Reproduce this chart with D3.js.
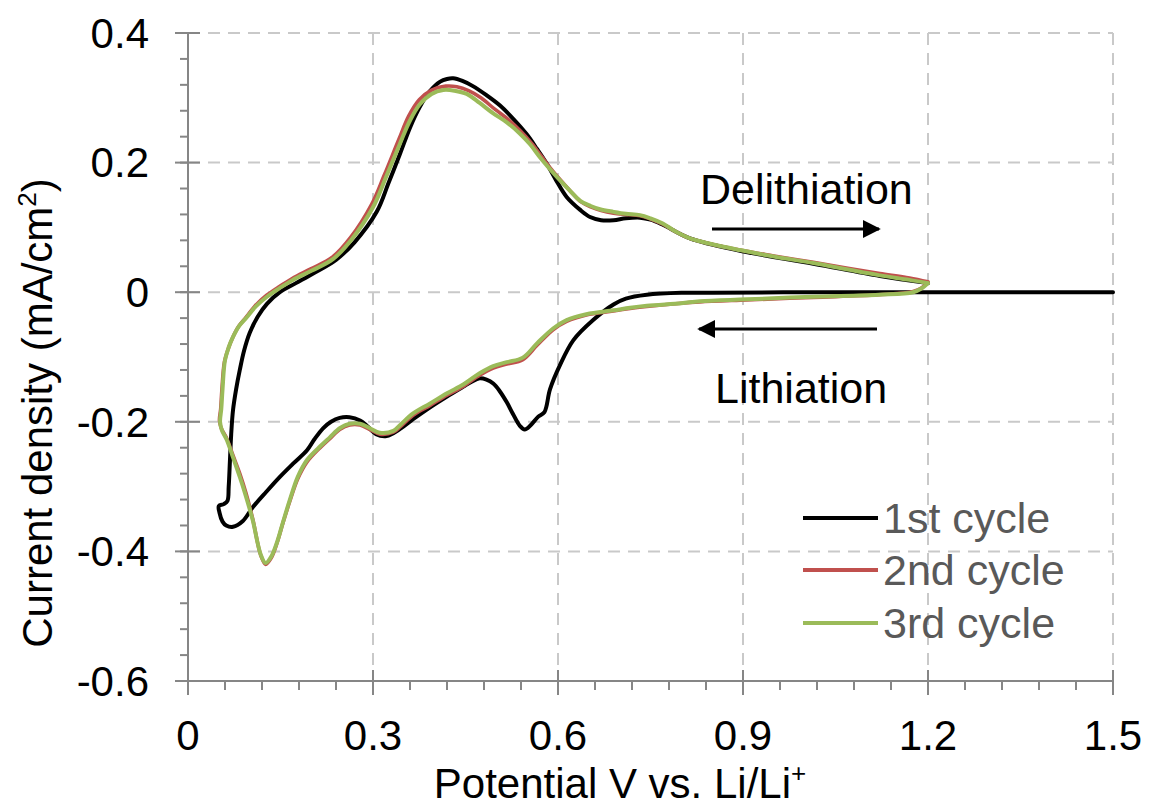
<!DOCTYPE html>
<html>
<head>
<meta charset="utf-8">
<script src="https://cdn.jsdelivr.net/npm/d3@7"></script>
<style>
  html, body { margin: 0; padding: 0; background: #fff; }
  svg { display: block; }
  text { font-family: "Liberation Sans", Arial, sans-serif; }
</style>
</head>
<body>
<svg id="chart" width="1151" height="810"></svg>
<script>
// ---------------- data ----------------
const xTicks = [0, 0.3, 0.6, 0.9, 1.2, 1.5];
const xTickLabels = ["0", "0.3", "0.6", "0.9", "1.2", "1.5"];
const yTicks = [0.4, 0.2, 0, -0.2, -0.4, -0.6];
const yTickLabels = ["0.4", "0.2", "0", "-0.2", "-0.4", "-0.6"];
const seriesNames = ["1st cycle", "2nd cycle", "3rd cycle"];
const seriesColors = ["#000000", "#c0504d", "#9bbb59"];

const cycle1Potential = [1.5,1.2,1.0,0.85,0.8,0.744,0.71,0.69,0.657,0.625,0.603,0.587,0.578,0.568,0.556,0.546,0.538,0.527,0.517,0.505,0.495,0.484,0.473,0.46,0.446,0.42,0.392,0.365,0.344,0.322,0.305,0.29,0.279,0.262,0.246,0.232,0.219,0.205,0.193,0.17,0.149,0.127,0.105,0.089,0.073,0.062,0.056,0.051,0.05,0.058,0.064,0.066,0.068,0.07,0.073,0.078,0.084,0.091,0.1,0.113,0.128,0.149,0.175,0.203,0.24,0.27,0.306,0.325,0.344,0.36,0.376,0.392,0.409,0.42,0.43,0.445,0.462,0.484,0.506,0.527,0.549,0.566,0.582,0.598,0.614,0.636,0.652,0.67,0.69,0.71,0.733,0.75,0.77,0.814,0.895,1.014,1.122,1.2];
const cycle1Current = [0,0,0,-0.001,-0.001,-0.004,-0.01,-0.019,-0.043,-0.074,-0.113,-0.15,-0.185,-0.192,-0.205,-0.212,-0.206,-0.188,-0.17,-0.152,-0.141,-0.135,-0.133,-0.138,-0.146,-0.161,-0.178,-0.196,-0.211,-0.222,-0.219,-0.206,-0.198,-0.193,-0.194,-0.2,-0.21,-0.227,-0.244,-0.265,-0.285,-0.308,-0.332,-0.353,-0.362,-0.36,-0.354,-0.34,-0.33,-0.327,-0.322,-0.3,-0.26,-0.22,-0.182,-0.15,-0.12,-0.09,-0.063,-0.038,-0.018,0,0.014,0.029,0.05,0.077,0.124,0.168,0.214,0.254,0.286,0.31,0.325,0.329,0.33,0.326,0.318,0.304,0.288,0.268,0.244,0.221,0.198,0.171,0.147,0.127,0.116,0.111,0.111,0.114,0.115,0.112,0.104,0.083,0.064,0.044,0.025,0.014];

const cycle2Potential = [1.2,1.19,1.176,1.12,1.014,0.906,0.83,0.8,0.744,0.717,0.69,0.646,0.614,0.592,0.566,0.543,0.517,0.495,0.473,0.447,0.42,0.392,0.365,0.345,0.333,0.311,0.295,0.279,0.262,0.246,0.23,0.212,0.193,0.178,0.165,0.154,0.144,0.135,0.126,0.118,0.105,0.094,0.084,0.073,0.063,0.054,0.051,0.053,0.055,0.059,0.065,0.072,0.082,0.094,0.109,0.127,0.147,0.169,0.199,0.234,0.264,0.298,0.318,0.342,0.358,0.375,0.395,0.418,0.436,0.455,0.475,0.498,0.52,0.54,0.557,0.573,0.589,0.605,0.622,0.638,0.655,0.67,0.69,0.71,0.733,0.75,0.77,0.79,0.814,0.85,0.895,0.95,1.014,1.07,1.122,1.17,1.2];
const cycle2Current = [0.016,0.007,0.001,-0.004,-0.008,-0.012,-0.015,-0.017,-0.022,-0.025,-0.029,-0.035,-0.045,-0.058,-0.082,-0.104,-0.111,-0.117,-0.128,-0.145,-0.159,-0.175,-0.19,-0.207,-0.216,-0.219,-0.212,-0.205,-0.205,-0.212,-0.226,-0.242,-0.262,-0.288,-0.323,-0.356,-0.388,-0.41,-0.42,-0.406,-0.35,-0.31,-0.28,-0.252,-0.226,-0.21,-0.198,-0.18,-0.15,-0.108,-0.088,-0.071,-0.053,-0.039,-0.021,-0.005,0.008,0.021,0.036,0.054,0.085,0.136,0.18,0.236,0.272,0.297,0.312,0.318,0.317,0.311,0.3,0.282,0.266,0.248,0.23,0.21,0.19,0.172,0.154,0.139,0.131,0.126,0.122,0.12,0.118,0.113,0.105,0.094,0.083,0.074,0.065,0.056,0.046,0.037,0.029,0.022,0.016];

const cycle3Potential = [1.2,1.19,1.176,1.12,1.014,0.906,0.83,0.8,0.744,0.717,0.69,0.646,0.614,0.592,0.566,0.543,0.517,0.495,0.473,0.447,0.42,0.392,0.365,0.345,0.333,0.311,0.295,0.279,0.262,0.246,0.23,0.212,0.193,0.178,0.165,0.154,0.144,0.135,0.126,0.118,0.105,0.094,0.084,0.073,0.063,0.055,0.052,0.054,0.056,0.06,0.066,0.073,0.083,0.095,0.11,0.128,0.148,0.17,0.2,0.235,0.265,0.3,0.32,0.344,0.36,0.376,0.395,0.414,0.432,0.452,0.473,0.495,0.517,0.538,0.555,0.571,0.587,0.603,0.62,0.636,0.653,0.668,0.69,0.71,0.733,0.75,0.77,0.79,0.814,0.85,0.895,0.95,1.014,1.07,1.122,1.17,1.2];
const cycle3Current = [0.014,0.006,0,-0.004,-0.007,-0.011,-0.014,-0.017,-0.021,-0.024,-0.028,-0.034,-0.043,-0.056,-0.079,-0.101,-0.108,-0.114,-0.125,-0.142,-0.156,-0.172,-0.187,-0.204,-0.214,-0.217,-0.21,-0.203,-0.203,-0.21,-0.224,-0.24,-0.259,-0.285,-0.321,-0.355,-0.387,-0.408,-0.418,-0.405,-0.352,-0.315,-0.285,-0.255,-0.228,-0.213,-0.2,-0.18,-0.15,-0.105,-0.085,-0.069,-0.052,-0.039,-0.022,-0.007,0.006,0.019,0.033,0.051,0.081,0.131,0.175,0.23,0.265,0.29,0.306,0.312,0.311,0.306,0.292,0.276,0.262,0.245,0.228,0.208,0.19,0.173,0.156,0.141,0.133,0.128,0.124,0.121,0.119,0.114,0.106,0.094,0.083,0.074,0.065,0.055,0.045,0.035,0.026,0.019,0.014];

// ---------------- layout ----------------
const svg = d3.select("#chart");
const x = d3.scaleLinear().domain([0, 1.5]).range([188, 1113]);
const y = d3.scaleLinear().domain([-0.6, 0.4]).range([681, 33]);
const FONT = 42;

// grid lines
const grid = svg.append("g").attr("stroke", "#c9c9c9").attr("stroke-width", 2).attr("stroke-dasharray", "12,8");
grid.selectAll("line.v").data(xTicks.filter(d => d > 0)).enter().append("line")
  .attr("x1", d => x(d)).attr("x2", d => x(d)).attr("y1", y(0.4)).attr("y2", y(-0.6));
grid.selectAll("line.h").data(yTicks.filter(d => d > -0.6)).enter().append("line")
  .attr("x1", x(0)).attr("x2", x(1.5)).attr("y1", d => y(d)).attr("y2", d => y(d));

// axes
const axisColor = "#868686";
const yMinor = d3.range(-0.6, 0.4001, 0.04);
const xMinor = d3.range(0, 1.5001, 0.06);
const ax = svg.append("g").attr("stroke", axisColor).attr("stroke-width", 2);
ax.append("line").attr("x1", x(0)).attr("x2", x(0)).attr("y1", y(0.4)).attr("y2", y(-0.6));
ax.append("line").attr("x1", x(0)).attr("x2", x(1.5)).attr("y1", y(-0.6)).attr("y2", y(-0.6));
ax.selectAll("line.ymin").data(yMinor).enter().append("line")
  .attr("x1", x(0) - 8).attr("x2", x(0)).attr("y1", d => y(d)).attr("y2", d => y(d));
ax.selectAll("line.ymaj").data(yTicks).enter().append("line")
  .attr("x1", x(0) - 13).attr("x2", x(0) + 12).attr("y1", d => y(d)).attr("y2", d => y(d));
ax.selectAll("line.xmin").data(xMinor).enter().append("line")
  .attr("x1", d => x(d)).attr("x2", d => x(d)).attr("y1", y(-0.6)).attr("y2", y(-0.6) + 9);
ax.selectAll("line.xmaj").data(xTicks).enter().append("line")
  .attr("x1", d => x(d)).attr("x2", d => x(d)).attr("y1", y(-0.6) - 11).attr("y2", y(-0.6) + 14);

// tick labels
svg.append("g").selectAll("text").data(yTicks).enter().append("text")
  .attr("x", 149).attr("y", d => y(d)).attr("dy", "0.35em")
  .attr("text-anchor", "end").attr("font-size", FONT).attr("fill", "#000")
  .text((d, i) => yTickLabels[i]);
svg.append("g").selectAll("text").data(xTicks).enter().append("text")
  .attr("x", d => x(d)).attr("y", 750)
  .attr("text-anchor", "middle").attr("font-size", FONT).attr("fill", "#000")
  .text((d, i) => xTickLabels[i]);

// axis titles
const xt = svg.append("text").attr("x", 620).attr("y", 798).attr("text-anchor", "middle")
  .attr("font-size", FONT).attr("fill", "#000");
xt.append("tspan").text("Potential V vs. Li/Li");
xt.append("tspan").attr("font-size", 26).attr("dy", -16).text("+");

const yt = svg.append("text").attr("transform", "translate(52,413) rotate(-90)")
  .attr("text-anchor", "middle").attr("font-size", FONT).attr("fill", "#000");
yt.append("tspan").text("Current density (mA/cm");
yt.append("tspan").attr("font-size", 26).attr("dy", -16).text("2");
yt.append("tspan").attr("dy", 16).text(")");

// curves
const series = [
  { p: cycle1Potential, c: cycle1Current, w: 4 },
  { p: cycle2Potential, c: cycle2Current, w: 3.6 },
  { p: cycle3Potential, c: cycle3Current, w: 4 }
];
const line = d3.line().x(d => x(d[0])).y(d => y(d[1])).curve(d3.curveCatmullRom.alpha(0.5));
series.forEach((s, i) => {
  const pts = s.p.map((v, k) => [v, s.c[k]]);
  svg.append("path").datum(pts).attr("d", line)
    .attr("fill", "none").attr("stroke", seriesColors[i]).attr("stroke-width", s.w)
    .attr("stroke-linejoin", "round").attr("stroke-linecap", "round");
});

// annotations
svg.append("defs").append("marker").attr("id", "arrow").attr("viewBox", "0 0 10 10")
  .attr("refX", 9).attr("refY", 5).attr("markerWidth", 6).attr("markerHeight", 6)
  .attr("markerUnits", "strokeWidth").attr("orient", "auto")
  .append("path").attr("d", "M0,0 L10,5 L0,10 Z").attr("fill", "#000");
svg.append("text").attr("x", 700).attr("y", 204).attr("font-size", 43).attr("fill", "#000").text("Delithiation");
svg.append("line").attr("x1", 712).attr("x2", 879).attr("y1", 229).attr("y2", 229)
  .attr("stroke", "#000").attr("stroke-width", 3).attr("marker-end", "url(#arrow)");
svg.append("text").attr("x", 715).attr("y", 403).attr("font-size", 43).attr("fill", "#000").text("Lithiation");
svg.append("line").attr("x1", 877).attr("x2", 699).attr("y1", 329).attr("y2", 329)
  .attr("stroke", "#000").attr("stroke-width", 3).attr("marker-end", "url(#arrow)");

// legend
const legendY = [518, 570, 623];
const lg = svg.append("g");
seriesNames.forEach((n, i) => {
  lg.append("line").attr("x1", 803).attr("x2", 878).attr("y1", legendY[i]).attr("y2", legendY[i])
    .attr("stroke", seriesColors[i]).attr("stroke-width", 4);
  lg.append("text").attr("x", 883).attr("y", legendY[i]).attr("dy", "0.35em")
    .attr("font-size", 43).attr("fill", "#595959").text(n);
});
</script>
</body>
</html>
